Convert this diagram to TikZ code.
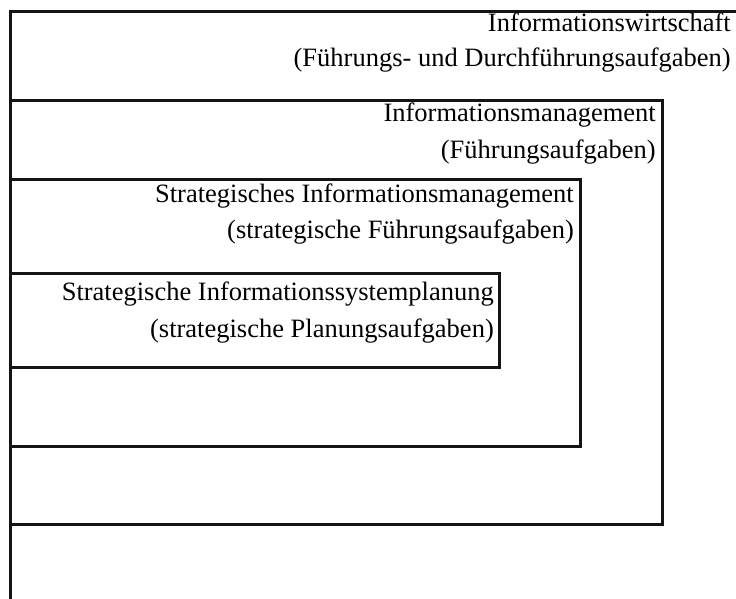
\documentclass[tikz,border=0pt]{standalone}
\usepackage{fontspec}
\setmainfont{Liberation Serif}
\begin{document}
\begin{tikzpicture}[x=1pt,y=-1pt,
  frame/.style={line width=3pt,draw=black!92},
  lbl/.style={anchor=base east,inner sep=0pt,font=\fontsize{26.5}{32}\selectfont,text=black}]
\useasboundingbox (0,0) rectangle (736,599);
% outer (open) frame
\draw[frame] (736,12) -- (10,12) -- (10,599);
% Informationsmanagement
\draw[frame] (10,101) rectangle (662,524);
% Strategisches Informationsmanagement
\draw[frame] (10,179) rectangle (580,446);
% Strategische Informationssystemplanung
\draw[frame] (10,273) rectangle (499,367);
\node[lbl] (iw1) at (731,32) {Informationswirtschaft};
\node[lbl] (iw2) at (731,67) {(Führungs- und Durchführungsaufgaben)};
\node[lbl] (im1) at (656,122) {Informationsmanagement};
\node[lbl] (im2) at (656,158) {(Führungsaufgaben)};
\node[lbl] (sim1) at (574,202) {Strategisches Informationsmanagement};
\node[lbl] (sim2) at (574,238) {(strategische Führungsaufgaben)};
\node[lbl] (sp1) at (494,300) {Strategische Informationssystemplanung};
\node[lbl] (sp2) at (494,337) {(strategische Planungsaufgaben)};
\end{tikzpicture}
\end{document}
